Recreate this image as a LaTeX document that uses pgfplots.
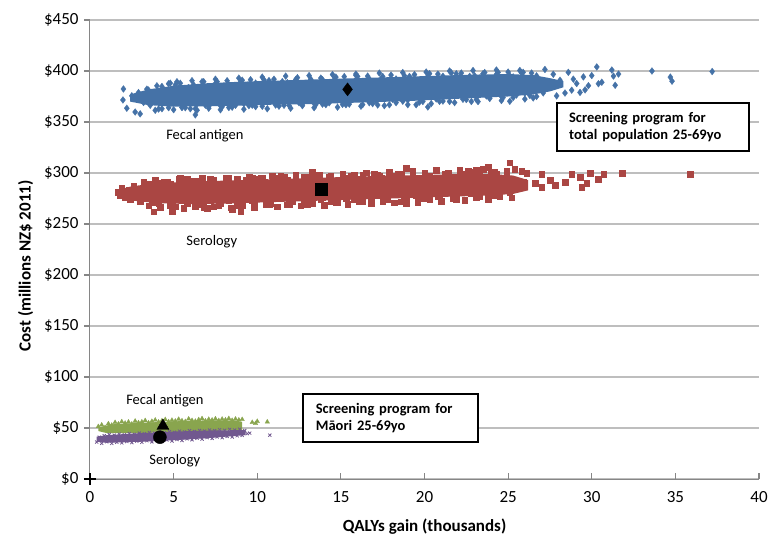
\documentclass[border=0pt]{standalone}
\usepackage{fontspec}
\setmainfont{Carlito}
\usepackage{pgfplots}
\pgfplotsset{compat=1.18}
\definecolor{fblue}{RGB}{69,114,167}
\definecolor{sred}{RGB}{170,70,67}
\definecolor{mgreen}{RGB}{137,165,78}
\definecolor{mpurple}{RGB}{113,88,143}
\definecolor{axisgray}{RGB}{134,134,134}
\definecolor{gridgray}{RGB}{190,190,190}
\begin{document}
\begin{tikzpicture}
\begin{axis}[
  scale only axis, width=669bp, height=459bp,
  xmin=0, xmax=40, ymin=0, ymax=450,
  xtick={0,5,...,40}, ytick={0,50,...,450},
  axis x line*=bottom, axis y line*=left,
  axis line style={-, draw=axisgray, line width=1bp},
  ymajorgrids, grid style={draw=gridgray, line width=1.2bp},
  major tick length=0pt,
  /pgf/number format/assume math mode=true,
  tick label style={font=\fontsize{17bp}{20bp}\selectfont, text=black},
  yticklabel={\$\pgfmathprintnumber{\tick}},
  yticklabel style={xshift=-8bp},
  xticklabel style={yshift=-9bp},
  clip=false,
]
% ---------- tick marks ----------
\pgfplotsinvokeforeach{0,5,...,40}{\draw[axisgray, line width=1.2bp] (axis cs:#1,0) -- ++(0,6bp);}
\pgfplotsinvokeforeach{0,50,...,450}{\draw[axisgray, line width=1.2bp] (axis cs:0,#1) -- ++(-6bp,0);}
% ---------- Fecal antigen, total population (blue) ----------
\addplot[fill=fblue, draw=none, forget plot] coordinates {
(2.4,377)(3.5,382)(5,385.5)(7,388)(9,389.5)(11,390.5)(13,391.5)(15,392.5)(17,393.5)(19,394.5)(21,395.5)(23,396.5)(25,397)(26.5,396)(27.5,393)(28.3,390)
(28.3,384)(27.5,380)(26.5,377)(25,375)(23,373.5)(21,372)(19,370.5)(17,369.5)(15,368.5)(13,367.5)(11,367)(9,366)(7,365.5)(5,365)(3.5,366.5)(2.4,370)} --cycle;
\addplot[only marks, mark=diamond*, mark size=3.4bp, mark options={draw=fblue, fill=fblue, line width=0.3bp}, forget plot] coordinates {
(2.0,382.4)(2.2,363.5)(2.5,375.7)(2.7,359.8)(2.9,378.9)(3.2,369.1)(3.4,382.2)(3.6,366.4)(3.9,373.5)(4.1,362.7)(4.3,378.8)(4.6,369.0)(4.8,388.1)(5.0,371.9)(5.3,383.4)(5.5,364.2)(5.7,377.4)(6.0,363.0)(6.2,386.2)(6.4,367.7)(6.7,374.2)(6.9,366.5)(7.1,381.8)(7.4,372.1)(7.6,389.6)(7.8,365.9)(8.1,380.1)(8.3,364.2)(8.5,385.1)(8.8,371.7)(9.0,389.1)(9.2,368.2)(9.5,377.2)(9.7,366.5)(9.9,384.6)(10.2,371.3)(10.4,391.4)(10.6,375.3)(10.9,386.7)(11.1,366.6)(11.3,380.8)(11.6,366.4)(11.8,388.6)(12.0,371.1)(12.3,377.6)(12.5,368.9)(12.7,384.1)(13.0,375.5)(13.2,391.9)(13.4,368.2)(13.7,383.4)(13.9,367.5)(14.1,387.5)(14.4,375.0)(14.6,391.5)(14.8,371.6)(15.1,380.6)(15.3,366.9)(15.5,387.0)(15.8,374.7)(16.0,394.8)(16.2,378.6)(16.5,390.1)(16.7,368.9)(16.9,384.1)(17.2,366.7)(17.4,391.9)(17.6,374.5)(17.9,380.9)(18.1,372.3)(18.3,387.5)(18.6,378.9)(18.8,395.3)(19.0,371.6)(19.3,386.8)(19.5,366.9)(19.7,390.8)(20.0,378.4)(20.2,394.8)(20.4,374.9)(20.7,383.9)(20.9,370.2)(21.1,390.4)(21.4,378.0)(21.6,398.2)(21.8,382.0)(22.1,393.5)(22.3,372.3)(22.5,387.5)(22.8,370.1)(23.0,395.3)(23.2,377.8)(23.5,384.3)(23.7,375.6)(23.9,390.8)(24.2,382.2)(24.4,398.6)(24.6,375.0)(24.9,390.1)(25.1,370.3)(25.3,394.2)(25.6,381.8)(25.8,398.2)(26.0,378.3)(26.3,387.3)(26.5,373.6)(26.7,393.7)(27.0,381.4)(27.2,401.5)(27.4,385.3)(27.7,396.8)(27.9,375.6)(28.1,390.9)(28.4,378.4)(28.6,398.7)(28.8,381.2)(29.1,387.7)(29.3,379.0)(29.5,394.2)(29.8,385.6)
(3.5,381.3)(3.9,361.5)(4.3,384.8)(4.7,364.0)(5.1,386.3)(5.5,364.5)(5.9,383.7)(6.3,363.0)(6.7,389.5)(7.1,365.5)(7.5,387.7)(7.9,365.0)(8.3,386.2)(8.7,366.4)(9.1,391.0)(9.5,366.0)(9.9,388.1)(10.3,365.4)(10.7,390.6)(11.1,367.9)(11.5,389.6)(11.9,366.3)(12.3,391.6)(12.7,367.8)(13.1,388.6)(13.5,367.0)(13.9,391.5)(14.3,368.8)(14.7,394.0)(15.1,367.3)(15.9,395.7)(16.3,367.0)(16.7,392.2)(17.1,370.5)(17.5,394.7)(17.9,366.9)(18.3,392.2)(18.7,370.4)(19.1,394.7)(19.9,370.1)(20.3,397.4)(20.7,372.6)(21.1,394.9)(21.5,370.1)(21.9,397.3)(22.3,373.6)(22.7,394.8)(23.1,372.1)(23.5,397.3)(23.9,374.5)(24.3,396.8)(24.7,374.0)(25.1,395.3)(25.5,376.5)(25.9,398.7)(26.3,376.0)(26.7,395.2)(27.1,378.5)
(4.0,385.5)(4.7,387.5)(5.4,388)(6.1,390.5)(6.8,389.5)(7.5,392)(8.2,390.5)(8.9,393)(9.6,391.5)(10.3,394)(11.0,392)(11.7,395)(12.4,393.5)(13.1,395.5)(13.8,393)(14.5,396.5)(15.2,394.5)(15.9,397)(16.6,395)(17.3,398)(18.0,396)(18.7,398.5)(19.4,396.5)(20.1,399)(20.8,397)(21.5,400)(22.2,398)(22.9,400.5)(23.6,398.5)(24.3,401)(25.0,399)(25.7,400.5)(26.4,398)
(4.3,363)(5.0,362)(5.7,364)(6.4,361.5)(7.1,363.5)(7.8,362)(8.5,364.5)(9.2,362.5)(9.9,365)(10.6,363)(11.3,365.5)(12.0,363.5)(12.7,366)(13.4,364)(14.1,367)(14.8,364.5)(15.5,367.5)(16.2,365.5)(16.9,368)(17.6,366)(18.3,369)(19.0,367)(19.7,369.5)(20.4,368)(21.1,370.5)(21.8,369)(22.5,372)(23.2,370)(23.9,373)(24.6,371)(25.3,374)(26.0,372.5)(26.7,375)
(1.97,371.6)(3.0,358.0)(6.3,357.0)(5.2,389.5)(20.2,364.7)(30.3,404.0)(30.6,389.0)(30.0,395.5)(31.2,401.0)(31.3,395.0)(31.4,386.0)(31.6,397.0)(28.9,392.0)(29.6,381.5)(30.4,387.5)(33.6,400.0)(34.7,394.0)(34.8,390.0)(37.2,399.5)
};
% ---------- Serology, total population (red) ----------
\addplot[fill=sred, draw=none, forget plot] coordinates {
(1.8,284)(2.5,287)(4,290)(6,291.5)(8,292.5)(10,293.5)(12,294.5)(14,295.5)(16,296.5)(18,297.5)(20,298)(22,299)(24,299)(25.3,297.5)(26.2,293)
(26.2,283)(25.3,279.5)(24,278)(22,277)(20,276)(18,275)(16,274)(14,273)(12,272)(10,271)(8,270)(6,269.5)(4,270.5)(2.5,273)(1.8,276)} --cycle;
\addplot[only marks, mark=square*, mark size=2.8bp, mark options={draw=sred, fill=sred, line width=0.3bp}, forget plot] coordinates {
(1.7,281.5)(1.8,278)(1.9,285.5)(2.1,276.5)(2.3,283)(2.4,274.5)(2.6,287)(2.8,279.5)(3.0,272.5)(3.1,284.5)(3.3,277)(3.5,289)(3.7,271)(3.9,281.5)
(4.1,270.5)(4.4,291.6)(4.6,275.7)(4.8,288.8)(5.1,267.0)(5.3,285.0)(5.5,273.1)(5.8,294.3)(6.0,279.4)(6.2,290.4)(6.5,269.6)(6.7,283.7)(6.9,274.8)(7.2,293.9)(7.4,267.0)(7.6,288.1)(7.9,278.2)(8.1,292.3)(8.3,273.4)(8.6,283.5)(8.8,269.6)(9.0,289.7)(9.3,279.8)(9.5,287.9)(9.7,273.0)(10.0,294.2)(10.2,278.2)(10.4,291.3)(10.7,269.5)(10.9,287.6)(11.1,275.6)(11.4,296.8)(11.6,281.9)(11.8,293.0)(12.1,272.1)(12.3,286.2)(12.5,277.3)(12.8,296.4)(13.0,269.5)(13.2,290.6)(13.5,280.7)(13.7,294.8)(13.9,275.9)(14.2,286.0)(14.4,272.1)(14.6,292.2)(14.9,282.4)(15.1,290.4)(15.3,275.5)(15.6,296.7)(15.8,280.8)(16.0,293.9)(16.3,272.0)(16.5,290.1)(16.7,278.2)(17.0,299.3)(17.2,284.4)(17.4,295.5)(17.7,274.6)(17.9,288.7)(18.1,279.8)(18.4,298.9)(18.6,272.0)(18.8,293.1)(19.1,283.2)(19.3,297.3)(19.5,278.4)(19.8,288.6)(20.0,274.7)(20.2,294.7)(20.5,284.9)(20.7,293.0)(20.9,278.1)(21.2,299.2)(21.4,283.3)(21.6,296.4)(21.9,274.5)(22.1,292.6)(22.3,280.7)(22.6,301.8)(22.8,286.9)(23.0,298.0)(23.3,277.1)(23.5,291.2)(23.7,282.3)(24.0,301.5)(24.2,278.5)(24.4,295.6)(24.7,285.8)(24.9,299.9)(25.1,281.0)
(4.3,290.6)(4.8,267.8)(5.3,293.0)(5.8,270.3)(6.3,292.5)(6.8,266.7)(7.3,291.0)(7.8,270.2)(8.3,295.4)(8.8,268.6)(9.3,292.8)(9.8,272.1)(10.3,295.3)(10.8,270.5)(11.3,294.7)(11.8,269.0)(12.3,293.2)(12.8,272.4)(13.3,297.6)(13.8,273.9)(14.3,296.1)(14.8,271.3)(15.3,295.5)(15.8,273.8)(16.3,298.0)(16.8,275.2)(17.3,297.4)(17.8,273.7)(18.3,296.9)(18.8,277.1)(19.3,299.3)(19.8,275.6)(20.3,296.8)(20.8,277.0)(21.3,299.2)(21.8,278.5)(22.3,298.7)(22.8,279.9)(23.3,300.1)(23.8,279.4)(24.3,298.6)
(3.2,291)(3.9,293)(4.6,291.5)(5.3,294)(6.0,292.5)(6.7,295)(7.4,293.5)(8.1,295.5)(8.8,294)(9.5,296.5)(10.2,295)(10.9,297.5)(11.6,296)(12.3,298)(13.0,296.5)(13.7,298.5)(14.4,297)(15.1,299.5)(15.8,298)(16.5,300.5)(17.2,298.5)(17.9,301)(18.6,299.5)(19.3,302)(20.0,300)(20.7,302.5)(21.4,300.5)(22.1,303)(22.8,301)(23.5,303.5)(24.2,301.5)(24.9,302)
(3.5,268)(4.2,266.5)(4.9,268.5)(5.6,265.5)(6.3,267.5)(7.0,265.5)(7.7,268)(8.4,266)(9.1,268.5)(9.8,266.5)(10.5,269)(11.2,267)(11.9,269.5)(12.6,268)(13.3,270.5)(14.0,268.5)(14.7,271)(15.4,269.5)(16.1,272)(16.8,270)(17.5,272.5)(18.2,271)(18.9,273)(19.6,271.5)(20.3,274)(21.0,272.5)(21.7,275)(22.4,273.5)(23.1,276)(23.8,274.5)(24.5,277)(25.2,276)
(3.8,262)(4.9,262)(8.5,264)(9.0,262)(18.9,270.6)(5.4,295)(9.7,295)(13.3,301)(18.9,305)(23.1,303)(23.8,306)(25.1,310)(25.4,304)(25.8,302)(26.1,300)(25.9,291)(24.5,293)(25.1,281)(26.6,290)(27.0,299)(27.0,286)(27.5,293)(27.8,288)(28.4,291)(28.8,299)(29.3,296)(29.4,286)(29.7,290)(29.9,300)(30.4,294)(30.7,299)(31.8,300)(35.9,299)
};
% ---------- Fecal antigen, Maori (green) ----------
\addplot[fill=mgreen, draw=none, forget plot] coordinates {
(0.5,50.5)(1,52.5)(1.5,54)(3,55)(5,56.5)(7,57.5)(8.6,57.5)(9.1,56)
(9.1,48)(7,47)(5,46)(3,45)(1,45)(0.5,47)} --cycle;
\addplot[only marks, mark=triangle*, mark size=2.6bp, mark options={draw=mgreen, fill=mgreen, line width=0.3bp}, forget plot] coordinates {
(0.5,51.5)(0.7,53.0)(0.9,50.5)(1.1,54.2)(1.3,52.8)(1.5,55.5)(1.7,54.0)(1.9,56.2)(2.1,54.8)(2.3,55.9)(2.5,53.9)(2.7,56.8)(2.9,55.2)(3.1,56.0)(3.3,57.3)(3.5,55.1)(3.7,56.6)(3.9,57.8)(4.1,55.9)(4.3,57.0)(4.5,58.3)(4.7,56.2)(4.9,57.6)(5.1,56.8)(5.3,58.6)(5.5,57.1)(5.7,56.4)(5.9,58.9)(6.1,57.4)(6.3,56.7)(6.5,58.2)(6.7,59.2)(6.9,57.0)(7.1,58.5)(7.3,57.8)(7.5,59.0)(7.7,57.3)(7.9,58.7)(8.1,58.0)(8.3,59.3)(8.5,57.5)(8.7,58.8)(8.9,57.9)(9.1,58.4)
(9.7,55.5)(10.0,56.5)(9.9,54.5)(10.6,56.0)
};
% ---------- Serology, Maori (purple) ----------
\addplot[fill=mpurple, draw=none, forget plot] coordinates {
(0.4,41.5)(1,43)(3,45)(5,46.5)(7,47.5)(9.3,48)
(9.3,43)(7,40)(5,38)(3,36.5)(1,35.5)(0.4,36.5)} --cycle;
\addplot[only marks, mark=x, mark size=2.2bp, mark options={draw=mpurple, line width=0.8bp}, forget plot] coordinates {
(0.4,36.2)(0.55,41.0)(0.7,35.0)(0.85,42.4)(1.0,36.6)(1.15,43.6)(1.3,34.9)(1.45,42.9)(1.6,36.1)(1.75,44.0)(1.9,35.4)(2.05,43.3)(2.2,36.8)(2.35,44.5)(2.5,35.7)(2.65,43.8)(2.8,37.2)(2.95,45.0)(3.1,36.0)(3.25,44.4)(3.4,37.5)(3.55,45.6)(3.7,36.4)(3.85,44.9)(4.0,37.9)(4.15,46.0)(4.3,36.8)(4.45,45.3)(4.6,38.3)(4.75,46.4)(4.9,37.3)(5.05,45.8)(5.2,38.8)(5.35,46.9)(5.5,37.8)(5.65,46.2)(5.8,39.4)(5.95,47.3)(6.1,38.5)(6.25,46.6)(6.4,40.0)(6.55,47.6)(6.7,39.1)(6.85,47.0)(7.0,40.6)(7.15,48.0)(7.3,39.8)(7.45,47.4)(7.6,41.2)(7.75,48.3)(7.9,40.5)(8.05,47.8)(8.2,41.8)(8.35,48.6)(8.5,41.2)(8.65,48.0)(8.8,42.4)(8.95,48.8)(9.1,42.8)(9.25,47.5)(9.4,44.5)(9.55,45.0)(10.75,43.0)
};
% ---------- means ----------
\addplot[only marks, mark=diamond*, mark size=6.5bp, mark options={draw=black, fill=black}, forget plot] coordinates {(15.4,382)};
\addplot[only marks, mark=square*, mark size=6bp, mark options={draw=black, fill=black}, forget plot] coordinates {(13.85,284)};
\addplot[only marks, mark=triangle*, mark size=7bp, mark options={draw=black, fill=black}, forget plot] coordinates {(4.36,52)};
\addplot[only marks, mark=*, mark size=6.5bp, mark options={draw=black, fill=black}, forget plot] coordinates {(4.18,41)};
\addplot[only marks, mark=+, mark size=6bp, mark options={draw=black, line width=1.2bp}, forget plot] coordinates {(0,0)};
% ---------- labels ----------
\node[font=\fontsize{14.5bp}{17bp}\selectfont] at (axis cs:6.87,337) {Fecal antigen};
\node[font=\fontsize{14.5bp}{17bp}\selectfont] at (axis cs:7.28,233) {Serology};
\node[font=\fontsize{14.5bp}{17bp}\selectfont] at (axis cs:4.48,76.5) {Fecal antigen};
\node[font=\fontsize{14.5bp}{17bp}\selectfont] at (axis cs:5.07,17.6) {Serology};
\node[draw=black, line width=1.3bp, fill=white, font=\bfseries\fontsize{14.5bp}{17.5bp}\selectfont, align=left, text width=168bp, inner xsep=12bp, inner ysep=0bp, minimum height=48bp] at (axis cs:33.67,345) {Screening program for\\total population 25-69yo};
\node[draw=black, line width=1.3bp, fill=white, font=\bfseries\fontsize{14.5bp}{17.5bp}\selectfont, align=left, text width=149bp, inner xsep=13bp, inner ysep=0bp, minimum height=48bp] at (axis cs:17.96,59.8) {Screening program for\\Māori 25-69yo};
\node[font=\bfseries\fontsize{17bp}{20bp}\selectfont] at (axis cs:20,-47) {QALYs gain (thousands)};
\node[rotate=90, font=\bfseries\fontsize{17bp}{20bp}\selectfont] at (axis cs:-3.85,209) {Cost (millions NZ\$ 2011)};
\coordinate (ll) at (axis cs:0,0);
\end{axis}
\pgfresetboundingbox
\path[use as bounding box] (ll) ++(-90bp,-59bp) rectangle ++(771bp,538bp);
\end{tikzpicture}
\end{document}
